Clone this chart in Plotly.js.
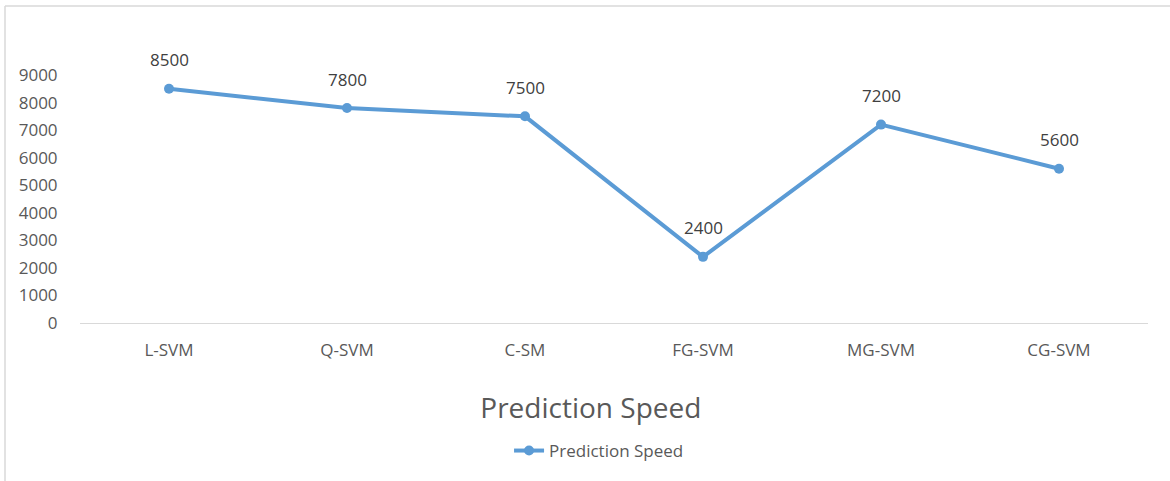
<!DOCTYPE html>
<html>
<head>
<meta charset="utf-8">
<script src="https://cdn.plot.ly/plotly-3.0.1.min.js"></script>
<style>html,body{margin:0;padding:0;background:#fff}#chart{width:1170px;height:481px}</style>
</head>
<body>
<div id="chart"></div>
<script>
var categories = ["L-SVM", "Q-SVM", "C-SM", "FG-SVM", "MG-SVM", "CG-SVM"];
var predictionSpeed = [8500, 7800, 7500, 2400, 7200, 5600];
var yTicks = [0, 1000, 2000, 3000, 4000, 5000, 6000, 7000, 8000, 9000];
var seriesName = "Prediction Speed";
var chartTitle = "Prediction Speed";

var FONT = "Open Sans, Liberation Sans, sans-serif";
var PH = 248; // plot height in px
var trace = {
  x: categories,
  y: predictionSpeed,
  type: "scatter",
  mode: "lines+markers",
  name: seriesName,
  line: {color: "#5B9BD5", width: 4},
  marker: {color: "#5B9BD5", size: 10},
  showlegend: true
};
var annotations = categories.map(function (c, i) {
  return {x: c, y: predictionSpeed[i], xref: "x", yref: "y", text: String(predictionSpeed[i]),
    showarrow: false, yshift: 29, font: {family: FONT, size: 17, color: "#404040"}};
});
var layout = {
  width: 1170, height: 481,
  margin: {l: 80, r: 22, t: 75, b: 158},
  paper_bgcolor: "#fff", plot_bgcolor: "#fff",
  font: {family: FONT, color: "#595959"},
  title: {text: chartTitle, font: {family: FONT, size: 28, color: "#595959"}, x: 0.505, xanchor: "center",
    yref: "container", y: 0.152, yanchor: "middle"},
  xaxis: {type: "category", range: [-0.5, 5.5], showgrid: false, zeroline: false, showline: true,
    linecolor: "#D9D9D9", linewidth: 1, ticks: "outside", ticklen: 12, tickcolor: "rgba(0,0,0,0)",
    tickfont: {family: FONT, size: 17, color: "#595959"}, fixedrange: true},
  yaxis: {range: [0, 9000], tickvals: yTicks, ticktext: yTicks.map(String), showgrid: false, zeroline: false,
    showline: false, ticks: "outside", ticklen: 18, tickcolor: "rgba(0,0,0,0)",
    tickfont: {family: FONT, size: 17, color: "#595959"}},
  legend: {orientation: "h", x: 0.486, xanchor: "center", y: (323 - 451) / PH, yanchor: "middle",
    font: {family: FONT, size: 17, color: "#595959"}, bgcolor: "rgba(0,0,0,0)"},
  annotations: annotations,
  shapes: [
    {type: "line", xref: "paper", yref: "paper", x0: -75/1068, x1: 1170/1068, y0: (323-6)/PH, y1: (323-6)/PH,
      line: {color: "#D9D9D9", width: 1.5}},
    {type: "line", xref: "paper", yref: "paper", x0: -75/1068, x1: -75/1068, y0: (323-6)/PH, y1: (323-481)/PH,
      line: {color: "#D9D9D9", width: 1.5}}
  ]
};
Plotly.newPlot("chart", [trace], layout, {displayModeBar: false, staticPlot: true});
</script>
</body>
</html>
